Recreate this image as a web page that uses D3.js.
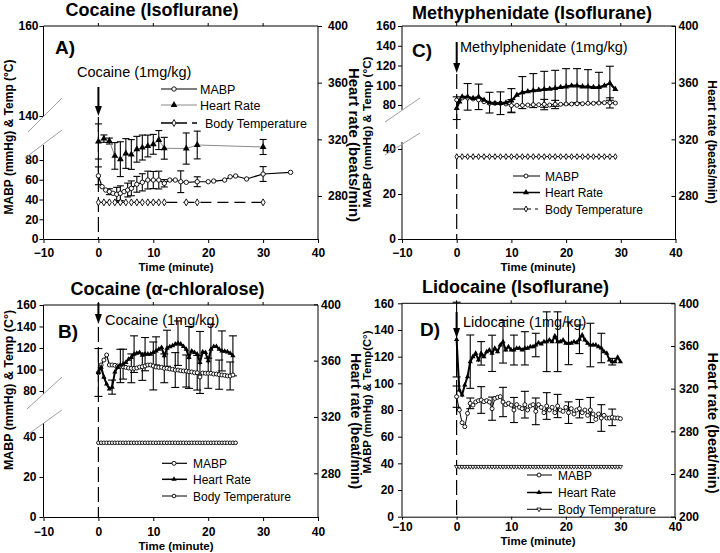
<!DOCTYPE html>
<html><head><meta charset="utf-8">
<script src="https://cdn.jsdelivr.net/npm/d3@7"></script>
<style>
body{margin:0;background:#fff}
svg{display:block}
</style></head><body>
<svg id="c" width="720" height="553"></svg>
<script>
const FONT = "'Liberation Sans', Arial, Helvetica, sans-serif";
const xTicks = [-10, 0, 10, 20, 30, 40];

// ---------- Panel A : Cocaine (Isoflurane) ----------
const aMabpTime = [0,0.67,1.33,2,2.67,3.33,4,4.67,5.33,6,7,8,9,10,11,12,13,14,15,16,18,20,21,23,24,25,27,30,35];
const aMabp     = [64,53,49.6,47.9,46.3,45.3,46.3,47.9,49.6,51.3,55.4,57.4,59.7,59.7,59.7,56.4,59.7,59.7,58,57.4,58,58,58.7,59.7,63,63.8,60.8,65.8,67.5];
const aMabpErr  = [9,0,0,3,0,7,7.5,0,7,7.5,8,8.7,9,8.7,9,3.7,0,0,11,0,5,0,0,0,0,0,0,7.5,0];
const aHrTime   = [0,1,2,3,4,5,6,7,8,9,10,11,12,16,18,30];
const aHr       = [318.5,320.5,318.8,308.3,306,310,309.3,313,314.2,315.3,316.5,319.5,313.7,313.5,316,314.6];
const aHrErr    = [12.4,2.6,2.1,9.4,12.3,10.5,10.5,9.1,8.8,7.7,7,6.7,7.7,11,9.8,5.3];
const aTempTime = [0,1,2,3,4,5,6,7,8,9,10,11,12,16,18,30];
const aTemp     = [37.1,37.1,37.1,37.1,37.1,37.1,37.1,37.1,37.1,37.1,37.1,37.1,37.1,37.1,37.1,37.1];

// ---------- Panel C : Methyphenidate (Isoflurane) ----------
const cHrTime  = [0,0.5,1,2,3,4,5,6,7,8,9,10,11,12,13,14,15,16,17,18,19,20,21,22,23,24,25,26,27,28,29];
const cHr      = [342,346.6,350,350,349,350,347.8,345.9,345.5,345.5,345.9,347.3,351.3,353,353.7,354.4,354.8,355.3,355.6,356,356.7,357.2,357.9,357.9,357.2,357.2,356.7,356.7,357.9,359.6,355.3];
const cHrErr   = [8,0,0,9.4,0,9,0,7.3,0,8,0,8.5,0,11.3,0,12,0,12.7,0,12.7,0,12.7,0,12,0,12,0,10.6,0,12,0];
const cMabpTime = [0,1,2,3,4,5,6,7,8,9,10,11,12,13,14,15,16,17,18,19,20,21,22,23,24,25,26,27,28,29];
const cMabp    = [85.1,87.1,87.1,86.1,85.1,83.3,81.7,81.7,81.7,81,79.5,79.7,79.7,80,80.3,80.3,80.7,80,80.7,80.7,81,81,81.3,81.3,81.7,81.7,82,82.3,82.3,82];
const cMabpErr = [0,0,0,0,0,0,0,0,0,0,6,0,0,0,0,0,5,0,4,0,0,0,0,0,0,0,0,0,5,0];
const cTempTime = [0,1,2,3,4,5,6,7,8,9,10,11,12,13,14,15,16,17,18,19,20,21,22,23,24,25,26,27,28,29];
const cTemp    = [36.6,36.6,36.6,36.6,36.6,36.6,36.6,36.6,36.6,36.6,36.6,36.6,36.6,36.6,36.6,36.6,36.6,36.6,36.6,36.6,36.6,36.6,36.6,36.6,36.6,36.6,36.6,36.6,36.6,36.6];

// ---------- Panel B : Cocaine (alpha-chloralose) ----------
const bTime = [0,0.5,1,1.5,2,2.5,3,3.5,4,4.5,5,5.5,6,6.5,7,7.5,8,8.5,9,9.5,10,10.5,11,11.5,12,12.5,13,13.5,14,14.5,15,15.5,16,16.5,17,17.5,18,18.5,19,19.5,20,20.5,21,21.5,22,22.5,23,23.5,24,24.5];
const bHr   = [351.6,355.4,348.3,343.4,339.8,341.2,351.9,355.2,356.8,357.5,358.7,361,362.3,364.6,365.3,365.8,363.9,364.6,364.6,364.6,365.8,366.9,368.1,369.3,363.4,368.8,369.8,370.5,371.7,372.4,371.7,370,368.1,362.3,366.9,365.8,364.6,358.7,366.2,365.8,359.9,368.1,370,370,368.1,366.9,366.7,366.2,365.3,363.4];
const bHrErr = [17,0,0,0,0,5,0,0,0,10.6,0,0,0,13,0,0,0,11.8,0,0,0,10,0,0,0,12.8,0,0,0,15.8,0,0,0,22,0,0,0,22,0,0,0,17.7,0,0,0,14.2,0,0,0,14.2];
const bMabp = [97,104.2,108.8,113.5,104.2,104.2,103.9,103.3,103.3,102.6,102,101.4,101.1,101.1,101.4,102.3,102.6,103.3,104.2,104.2,103.3,102.3,102,102,101.1,101.1,100.5,100.2,99.5,99.5,98.9,98.6,98.6,97.9,97.7,97,97,93,96.7,96.5,96.5,96.5,95.8,95.8,95.2,94.9,94.6,94,94,94.9];
const bMabpErr = [0,0,0,0,0,0,0,0,15.5,0,0,0,13.4,0,0,0,12.7,0,0,0,22.3,0,0,0,13.4,0,0,0,16.2,0,0,0,14.9,0,0,0,16.1,0,0,0,14,0,0,0,13.6,0,0,0,13,0];
const bTempTime = [0,0.5,1,1.5,2,2.5,3,3.5,4,4.5,5,5.5,6,6.5,7,7.5,8,8.5,9,9.5,10,10.5,11,11.5,12,12.5,13,13.5,14,14.5,15,15.5,16,16.5,17,17.5,18,18.5,19,19.5,20,20.5,21,21.5,22,22.5,23,23.5,24,24.5,25];
const bTemp = [37.1,37.1,37.1,37.1,37.1,37.1,37.1,37.1,37.1,37.1,37.1,37.1,37.1,37.1,37.1,37.1,37.1,37.1,37.1,37.1,37.1,37.1,37.1,37.1,37.1,37.1,37.1,37.1,37.1,37.1,37.1,37.1,37.1,37.1,37.1,37.1,37.1,37.1,37.1,37.1,37.1,37.1,37.1,37.1,37.1,37.1,37.1,37.1,37.1,37.1,37.1];

// ---------- Panel D : Lidocaine (Isoflurane) ----------
const dTime = [0,0.5,1,1.5,2,2.5,3,3.5,4,4.5,5,5.5,6,6.5,7,7.5,8,8.5,9,9.5,10,10.5,11,11.5,12,12.5,13,13.5,14,14.5,15,15.5,16,16.5,17,17.5,18,18.5,19,19.5,20,20.5,21,21.5,22,22.5,23,23.5,24,24.5,25,25.5,26,26.5,27,27.5,28,28.5,29,29.5,30];
const dHr = [366,318.7,314,323.4,331.2,345.3,350,353.1,346.9,353.1,350,354.6,356.2,353.1,357.8,354.6,360.9,364,356.2,359.3,356.2,356.2,357.8,357.8,356.2,357.8,357.8,359.3,359.3,360.9,363.1,361.9,364,364,365.6,364,369.4,364,364,365.6,362.5,362.5,362.5,364,363.1,366.3,370.3,365.6,362.5,360.9,360.9,360.9,359.3,358.1,354.6,353.1,346.9,345.3,345.3,349.4,345.3];
const dHrErr = [35,0,0,0,0,25,0,0,0,11,0,0,0,17,0,0,0,20,0,0,0,14,0,0,0,15.6,0,0,0,11,0,0,0,28,0,0,0,28,0,0,0,20,0,0,0,13.4,0,0,0,20.4,0,0,0,13.8,0,0,0,3.1,0,0,0];
const dMabp = [90,80,70.5,67.5,77.5,85,83.7,86,87,87.5,86.2,87,86,81,88.7,89.5,90,86,84,85,83.7,80,84,82,81,84,80,83,84,79,84,82,78,83,80,82,78,83,80,79,82,78,81,77,80,81,78,80,76,80,77,73,77,74,76,74,74,74.5,74,74,73.5];
const dMabpErr = [8,0,0,0,0,4,0,0,0,10,0,0,0,8.7,0,0,0,11,0,0,0,9.4,0,0,0,10,0,0,0,10,0,0,0,10,0,0,0,8.7,0,0,0,8.1,0,0,0,6.9,0,0,0,9.4,0,0,0,10,0,0,0,6.2,0,0,0];
const dTemp = [37.5,37.5,37.5,37.5,37.5,37.5,37.5,37.5,37.5,37.5,37.5,37.5,37.5,37.5,37.5,37.5,37.5,37.5,37.5,37.5,37.5,37.5,37.5,37.5,37.5,37.5,37.5,37.5,37.5,37.5,37.5,37.5,37.5,37.5,37.5,37.5,37.5,37.5,37.5,37.5,37.5,37.5,37.5,37.5,37.5,37.5,37.5,37.5,37.5,37.5,37.5,37.5,37.5,37.5,37.5,37.5,37.5,37.5,37.5,37.5,37.5];

const legendLabels = ["MABP", "Heart Rate", "Body Temperature"];

const svg = d3.select("#c");

function txt(g, x, y, s, size, weight, anchor, rot) {
  const t = g.append("text").attr("x", x).attr("y", y).text(s)
    .attr("font-family", FONT).attr("font-size", size).attr("font-weight", weight || "normal")
    .attr("text-anchor", anchor || "start").attr("fill", "#000");
  if (rot) t.attr("transform", `rotate(${rot},${x},${y})`);
  return t;
}

function marker(g, kind, cx, cy, sz) {
  if (kind === "circle") {
    g.append("circle").attr("cx", cx).attr("cy", cy).attr("r", sz).attr("fill", "#fff").attr("stroke", "#000").attr("stroke-width", 0.9);
  } else if (kind === "tri") {
    g.append("path").attr("d", d3.symbol(d3.symbolTriangle, sz)()).attr("transform", `translate(${cx},${cy})`).attr("fill", "#000");
  } else if (kind === "diamond") {
    g.append("path").attr("d", d3.symbol(d3.symbolDiamond, sz)()).attr("transform", `translate(${cx},${cy})`).attr("fill", "#fff").attr("stroke", "#000").attr("stroke-width", 0.9);
  } else if (kind === "tridown") {
    g.append("path").attr("d", d3.symbol(d3.symbolTriangle, sz)()).attr("transform", `translate(${cx},${cy}) rotate(180)`).attr("fill", "#fff").attr("stroke", "#000").attr("stroke-width", 0.8);
  }
}

function errBars(g, x, y, times, vals, errs, cw) {
  times.forEach((t, i) => {
    const e = errs[i];
    if (!e) return;
    const xx = x(t), y1 = y(vals[i] - e), y2 = y(vals[i] + e);
    g.append("line").attr("x1", xx).attr("x2", xx).attr("y1", y1).attr("y2", y2).attr("stroke", "#000").attr("stroke-width", 1.1);
    [y1, y2].forEach(yy => g.append("line").attr("x1", xx - cw / 2).attr("x2", xx + cw / 2).attr("y1", yy).attr("y2", yy).attr("stroke", "#000").attr("stroke-width", 1.1));
  });
}

function seriesLine(g, x, y, times, vals, stroke, w, dash) {
  const pts = times.map((t, i) => [t, vals[i]]);
  const p = g.append("path").datum(pts)
    .attr("d", d3.line().x(d => x(d[0])).y(d => y(d[1])))
    .attr("fill", "none").attr("stroke", stroke).attr("stroke-width", w);
  if (dash) p.attr("stroke-dasharray", dash);
}

function seriesMarkers(g, x, y, times, vals, kind, sz) {
  times.forEach((t, i) => marker(g, kind, x(t), y(vals[i]), sz));
}

function drawPanel(p) {
  const g = svg.append("g");
  const x = d3.scaleLinear().domain([-10, 40]).range([p.x0, p.x1]);
  const yL = d3.scaleLinear().domain(p.yLDom).range(p.yLRng);
  const yR = d3.scaleLinear().domain(p.yRDom).range(p.yRRng);

  g.append("line").attr("x1", p.x0).attr("x2", p.x1).attr("y1", p.top).attr("y2", p.top).attr("stroke", "#000");
  xTicks.slice(1, -1).forEach(t => g.append("line").attr("x1", x(t)).attr("x2", x(t)).attr("y1", p.top).attr("y2", p.top - 3).attr("stroke", "#000"));

  const xa = g.append("g").attr("transform", `translate(0,${p.bottom})`)
    .call(d3.axisBottom(x).tickValues(xTicks).tickSize(p.xTick).tickPadding(p.xPad).tickSizeOuter(0));
  const la = g.append("g").attr("transform", `translate(${p.x0},0)`)
    .call(d3.axisLeft(yL).tickValues(p.yLTicks).tickSize(4).tickPadding(p.lPad));
  la.select(".domain").remove();
  p.leftSegs.forEach(s => g.append("line").attr("x1", p.x0).attr("x2", p.x0).attr("y1", s[0]).attr("y2", s[1]).attr("stroke", "#000"));
  p.breaks.forEach(b => g.append("line").attr("x1", b[0]).attr("y1", b[1]).attr("x2", b[2]).attr("y2", b[3]).attr("stroke", "#a0a0a0").attr("stroke-width", 1));
  const ra = g.append("g").attr("transform", `translate(${p.x1},0)`)
    .call(d3.axisRight(yR).tickValues(p.yRTicks).tickSize(p.rTick).tickPadding(p.rPad).tickSizeOuter(0));
  ra.select(".domain").remove();
  g.append("line").attr("x1", p.x1).attr("x2", p.x1).attr("y1", p.top).attr("y2", p.bottom).attr("stroke", "#000");
  [xa, la, ra].forEach(a => {
    a.selectAll("text").attr("font-size", 12).attr("font-weight", "bold").attr("font-family", FONT).attr("fill", "#000");
    a.selectAll("line").attr("stroke", "#000");
    a.selectAll(".domain").attr("stroke", "#000");
  });

  txt(g, p.title[0], p.title[1], p.title[2], 18, "bold", "middle");
  txt(g, p.tag[0], p.tag[1], p.tag[2], 19, "bold");
  txt(g, p.note[0], p.note[1], p.note[2], 14.5, "normal");
  txt(g, p.xLab[0], p.xLab[1], "Time (minute)", 11.5, "bold", "middle");
  txt(g, p.yLab[0], p.yLab[1], p.yLab[2], p.yLab[3], "bold", "middle", -90);
  txt(g, p.rLab[0], p.rLab[1], p.rLab[2], p.rLab[3], "bold", "middle", 90);

  const ax = x(0);
  g.append("line").attr("x1", ax).attr("x2", ax).attr("y1", p.dashY).attr("y2", p.bottom).attr("stroke", "#000").attr("stroke-width", 1.2).attr("stroke-dasharray", "15,5");
  g.append("line").attr("x1", ax).attr("x2", ax).attr("y1", p.arrow[0]).attr("y2", p.arrow[1] - 8).attr("stroke", "#000").attr("stroke-width", 2);
  g.append("path").attr("d", `M${ax - 3.5},${p.arrow[1] - 10}L${ax + 3.5},${p.arrow[1] - 10}L${ax},${p.arrow[1]}Z`).attr("fill", "#000");

  const s = p.series;
  errBars(g, x, yR, s.hrT, s.hr, s.hrE, p.capW);
  errBars(g, x, yL, s.mT, s.m, s.mE, p.capW);
  seriesLine(g, x, yL, s.tT, s.temp, "#000", p.tempW, p.tempDash);
  seriesLine(g, x, yL, s.mT, s.m, "#000", p.mW);
  seriesLine(g, x, yR, s.hrT, s.hr, p.hrColor, p.hrW);
  seriesMarkers(g, x, yL, s.tT, s.temp, p.tempMk, p.tempSz);
  seriesMarkers(g, x, yL, s.mT, s.m, "circle", p.mR);
  seriesMarkers(g, x, yR, s.hrT, s.hr, "tri", p.hrSz);

  const L = p.legend;
  const styles = [
    {stroke: "#000", w: p.mW, mk: "circle", sz: p.mR},
    {stroke: p.hrColor, w: Math.min(p.hrW, 1.5), mk: "tri", sz: p.hrSz},
    {stroke: "#000", w: p.tempW, mk: p.tempMk, sz: p.tempSz, dash: L.tempDash}
  ];
  styles.forEach((st, i) => {
    const yy = L.ys[i];
    const ln = g.append("line").attr("x1", L.x0).attr("x2", L.x1).attr("y1", yy).attr("y2", yy).attr("stroke", st.stroke).attr("stroke-width", st.w);
    if (st.dash) ln.attr("stroke-dasharray", st.dash);
    marker(g, st.mk, L.mx, yy, st.sz);
    txt(g, L.tx[i], yy + 4.5, legendLabels[i], L.size);
  });
}

drawPanel({
  x0: 43.5, x1: 318, top: 26, bottom: 239,
  yLDom: [0, 80, 140, 160], yLRng: [239, 160, 116, 26], yLTicks: [0, 20, 40, 60, 80, 140, 160],
  leftSegs: [[26, 116.5], [145, 239]], breaks: [[28, 132, 62, 98], [25, 158, 62, 130]],
  yRDom: [280, 400], yRRng: [196, 26], yRTicks: [280, 320, 360, 400],
  xTick: 4, xPad: 5, lPad: 1, rTick: 4, rPad: 6,
  title: [152, 15.5, "Cocaine (Isoflurane)"], tag: [55, 54, "A)"], note: [77, 77, "Cocaine (1mg/kg)"],
  xLab: [176, 271], yLab: [13, 137, "MABP (mmHg) & Temp (°C)", 12], rLab: [349, 145, "Heart rate (beats/min)", 15],
  dashY: 117, arrow: [87, 116],
  series: {hrT: aHrTime, hr: aHr, hrE: aHrErr, mT: aMabpTime, m: aMabp, mE: aMabpErr, tT: aTempTime, temp: aTemp},
  capW: 7, hrColor: "#8a8a8a", hrW: 1, mW: 1.2, mR: 2.2, hrSz: 20, tempMk: "diamond", tempSz: 14, tempW: 1.3, tempDash: "11,6",
  legend: {x0: 161, x1: 197, mx: 174, tx: [200, 200, 205], ys: [89, 105, 123], size: 12.5, tempDash: "26,5,5"}
});

drawPanel({
  x0: 402, x1: 675.5, top: 26, bottom: 239,
  yLDom: [0, 40, 80, 160], yLRng: [239, 149, 105, 26], yLTicks: [0, 20, 40, 80, 100, 120, 140, 160],
  leftSegs: [[26, 110], [142, 239]], breaks: [[385, 122, 420, 98], [385, 155, 420, 133]],
  yRDom: [280, 400], yRRng: [196, 26], yRTicks: [280, 320, 360, 400],
  xTick: 4, xPad: 5, lPad: 2, rTick: -4, rPad: 3,
  title: [532, 18.5, "Methyphenidate (Isoflurane)"], tag: [412, 57, "C)"], note: [460, 52, "Methylphenidate (1mg/kg)"],
  xLab: [538, 271], yLab: [371, 132, "MABP (mmHg) & Temp (°C)", 11.7], rLab: [708, 142, "Heart rate (beats/min)", 12],
  dashY: 74, arrow: [42, 73],
  series: {hrT: cHrTime, hr: cHr, hrE: cHrErr, mT: cMabpTime, m: cMabp, mE: cMabpErr, tT: cTempTime, temp: cTemp},
  capW: 8, hrColor: "#000", hrW: 2.2, mW: 1, mR: 2, hrSz: 16, tempMk: "diamond", tempSz: 10, tempW: 1, tempDash: null,
  legend: {x0: 513, x1: 540, mx: 526, tx: [545, 545, 545], ys: [176, 192.5, 209], size: 12, tempDash: "18,4,3"}
});

drawPanel({
  x0: 43.5, x1: 318, top: 305, bottom: 517,
  yLDom: [0, 40, 80, 160], yLRng: [517, 437, 391, 305], yLTicks: [0, 20, 40, 80, 100, 120, 140, 160],
  leftSegs: [[305, 394], [423, 517]], breaks: [[27, 409, 62, 377], [27, 435, 62, 410]],
  yRDom: [280, 400], yRRng: [473.3, 304.3], yRTicks: [280, 320, 360, 400],
  xTick: 4, xPad: 6, lPad: 3, rTick: -4, rPad: 3,
  title: [167.5, 295, "Cocaine (α-chloralose)"], tag: [58, 338, "B)"], note: [105, 325, "Cocaine (1mg/kg)"],
  xLab: [176, 550], yLab: [13, 390, "MABP (mmHg) & Temp (C°)", 12.4], rLab: [351, 421, "Heart rate (beat/min)", 14],
  dashY: 327, arrow: [303, 324],
  series: {hrT: bTime, hr: bHr, hrE: bHrErr, mT: bTime, m: bMabp, mE: bMabpErr, tT: bTempTime, temp: bTemp},
  capW: 8, hrColor: "#000", hrW: 2, mW: 1.2, mR: 2, hrSz: 12, tempMk: "circle", tempSz: 1.8, tempW: 1, tempDash: null,
  legend: {x0: 162, x1: 187, mx: 174, tx: [193, 193, 193], ys: [463.3, 479.3, 496], size: 12, tempDash: null}
});

drawPanel({
  x0: 402, x1: 675, top: 303.3, bottom: 516.7,
  yLDom: [0, 160], yLRng: [516.7, 303.3], yLTicks: [0, 20, 40, 60, 80, 100, 120, 140, 160],
  leftSegs: [[303.3, 516.7]], breaks: [],
  yRDom: [200, 400], yRRng: [516.7, 303.3], yRTicks: [200, 240, 280, 320, 360, 400],
  xTick: 3, xPad: 2.5, lPad: 4, rTick: -4, rPad: 4,
  title: [515.5, 292.5, "Lidocaine (Isoflurane)"], tag: [420, 336, "D)"], note: [463, 327, "Lidocaine (1mg/kg)"],
  xLab: [538, 545], yLab: [371, 402, "MABP (mmHg) & Temp(C°)", 11.3], rLab: [708, 423, "Heart rate (beat/min)", 14.5],
  dashY: 340, arrow: [312, 338],
  series: {hrT: dTime, hr: dHr, hrE: dHrErr, mT: dTime, m: dMabp, mE: dMabpErr, tT: dTime, temp: dTemp},
  capW: 8, hrColor: "#000", hrW: 2, mW: 1, mR: 2, hrSz: 12, tempMk: "tridown", tempSz: 8, tempW: 1, tempDash: null,
  legend: {x0: 527, x1: 552, mx: 539, tx: [558, 558, 558], ys: [475, 492.5, 509.3], size: 12, tempDash: null}
});
</script>
</body></html>
